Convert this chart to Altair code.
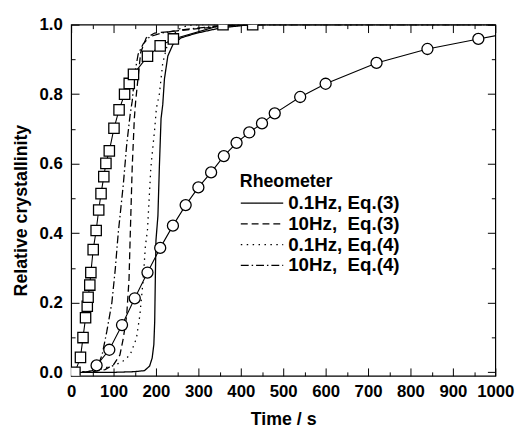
import altair as alt
import pandas as pd

# ---- data ----
# open squares (measured)
sq_t = [9, 22, 28, 34, 38, 40, 44, 46.5, 52, 59, 65, 70.5, 77, 82, 90, 101, 113, 126, 137, 147, 180, 210, 241, 358, 428]
sq_x = [0.0, 0.043, 0.10, 0.157, 0.19, 0.216, 0.251, 0.287, 0.353, 0.408, 0.467, 0.514, 0.563, 0.601, 0.637, 0.702, 0.755, 0.80, 0.831, 0.857, 0.909, 0.939, 0.959, 1.0, 1.0]

# open circles (measured); last point lies beyond the axis and is clipped
ci_t = [60, 90, 120, 150, 180, 210, 240, 270, 300, 330, 360, 390, 420, 450, 480, 540, 600, 720, 840, 960, 1080]
ci_x = [0.02, 0.065, 0.136, 0.213, 0.287, 0.358, 0.422, 0.481, 0.532, 0.575, 0.622, 0.66, 0.69, 0.716, 0.745, 0.792, 0.83, 0.89, 0.93, 0.959, 0.986]

# model curves (Rheometer)
s1_t = [0, 100, 150, 173, 185, 191, 195, 197, 198.5, 200, 204.6, 208, 212, 216, 220, 228, 240, 259, 294, 350, 420, 1000]
s1_x = [0.0, 0.0, 0.002, 0.005, 0.018, 0.041, 0.08, 0.145, 0.27, 0.38, 0.45, 0.59, 0.73, 0.77, 0.844, 0.91, 0.943, 0.962, 0.975, 0.99, 1.0, 1.0]

s2_t = [0, 50, 80, 100, 115, 123, 131, 136.5, 139, 144, 149, 152, 158, 164, 177, 197, 250, 350, 450, 1000]
s2_x = [0.0, 0.002, 0.008, 0.022, 0.05, 0.098, 0.164, 0.268, 0.38, 0.59, 0.73, 0.778, 0.85, 0.92, 0.962, 0.976, 0.982, 0.995, 1.0, 1.0]

s3_t = [0, 50, 96, 120, 139, 154, 162, 170, 175, 180, 188, 197, 201, 208, 216, 228, 250, 275, 300, 1000]
s3_x = [0.0, 0.003, 0.018, 0.03, 0.05, 0.098, 0.164, 0.268, 0.362, 0.41, 0.59, 0.70, 0.76, 0.80, 0.89, 0.948, 0.985, 0.998, 1.0, 1.0]

s4_t = [0, 30, 50, 65, 73, 84, 96, 104, 111, 123, 131, 139, 144, 150, 158, 170, 185, 210, 260, 350, 450, 1000]
s4_x = [0.0, 0.0, 0.005, 0.025, 0.05, 0.117, 0.2, 0.296, 0.4, 0.54, 0.655, 0.74, 0.78, 0.86, 0.915, 0.945, 0.965, 0.975, 0.985, 0.997, 1.0, 1.0]

series_labels = ["0.1Hz, Eq.(3)", "10Hz,\u00a0 Eq.(3)", "0.1Hz, Eq.(4)", "10Hz,\u00a0 Eq.(4)"]
series_dash = [[1, 0], [7, 4], [1.5, 4.5], [8, 3, 1.5, 3]]

x_major = list(range(0, 1001, 100))
x_minor = list(range(50, 1000, 100))
y_major = [0.0, 0.2, 0.4, 0.6, 0.8, 1.0]
y_minor = [0.1, 0.3, 0.5, 0.7, 0.9]

# ---- tables ----
curves = pd.concat([
    pd.DataFrame({"t": t, "x": x, "series": lab})
    for t, x, lab in zip([s1_t, s2_t, s3_t, s4_t], [s1_x, s2_x, s3_x, s4_x], series_labels)
])
squares = pd.DataFrame({"t": sq_t, "x": sq_x})
circles = pd.DataFrame({"t": ci_t, "x": ci_x})

W, H = 430, 356
FONT = "Liberation Sans"
xs = alt.Scale(domain=[0, 1000], nice=False, zero=False)
ys = alt.Scale(domain=[-0.01, 1.0], nice=False, zero=False)

text_style = dict(labelFont=FONT, labelFontWeight="bold", labelFontSize=17, labelColor="black",
                  titleFont=FONT, titleFontWeight="bold", titleFontSize=18, titleColor="black")


def tick_axis(orient, offset, vals, size):
    """Tick-only axis drawn on the opposite edge so that its ticks point inward."""
    return alt.Axis(orient=orient, offset=offset, values=vals, tickSize=size, tickColor="black",
                    labels=False, domain=False, grid=False, title=None)


x_main = alt.Axis(orient="bottom", values=x_major, format="d", ticks=False, domain=False, grid=False,
                  labelPadding=8, title="Time / s", titleX=W / 2, titleY=49,
                  titleBaseline="alphabetic", titleAlign="center", labelFlush=False,
                  labelOverlap=False, **text_style)
y_main = alt.Axis(orient="left", values=y_major, format=".1f", ticks=False, domain=False, grid=False,
                  labelPadding=9, title="Relative crystallinity", titleX=-45, titleY=188,
                  titleAngle=-90, titleBaseline="alphabetic", titleAlign="center",
                  labelFlush=False, labelOverlap=False, **text_style)

lines = alt.Chart(curves).mark_line(color="black", strokeWidth=1.3, clip=True).encode(
    x=alt.X("t:Q", scale=xs, axis=x_main),
    y=alt.Y("x:Q", scale=ys, axis=y_main),
    strokeDash=alt.StrokeDash(
        "series:N", sort=series_labels,
        scale=alt.Scale(domain=series_labels, range=series_dash),
        legend=alt.Legend(
            orient="none", legendX=171, legendY=151, title="Rheometer",
            titleFont=FONT, titleFontWeight="bold", titleFontSize=18, titleColor="black",
            titlePadding=3, labelFont=FONT, labelFontWeight="bold", labelFontSize=19,
            labelColor="black", labelLimit=0, labelOffset=4, symbolType="stroke",
            symbolSize=1849, symbolStrokeWidth=1.3, symbolStrokeColor="black",
            clipHeight=18, rowPadding=2, padding=0,
        ),
    ),
)

# bottom / left edges: axes of the opposite orientation, shifted across the plot
sq_line = alt.Chart(squares).mark_line(color="black", strokeWidth=1.1, clip=True).encode(
    x=alt.X("t:Q", scale=xs, axis=tick_axis("top", -H, x_major, 8)),
    y=alt.Y("x:Q", scale=ys, axis=tick_axis("right", -W, y_major, 8)),
)
ci_line = alt.Chart(circles).mark_line(color="black", strokeWidth=1.1, clip=True).encode(
    x=alt.X("t:Q", scale=xs, axis=tick_axis("top", -H, x_minor, 4)),
    y=alt.Y("x:Q", scale=ys, axis=tick_axis("right", -W, y_minor, 4)),
)
# top / right edges
sq_pts = alt.Chart(squares).mark_point(shape="square", filled=True, fill="white", stroke="black",
                                       strokeWidth=1.3, size=110, opacity=1, clip=True).encode(
    x=alt.X("t:Q", scale=xs, axis=tick_axis("bottom", -H, x_major, 8)),
    y=alt.Y("x:Q", scale=ys, axis=tick_axis("left", -W, y_major, 8)),
)
ci_pts = alt.Chart(circles).mark_point(shape="circle", filled=True, fill="white", stroke="black",
                                       strokeWidth=1.3, size=125, opacity=1, clip=True).encode(
    x=alt.X("t:Q", scale=xs, axis=tick_axis("bottom", -H, x_minor, 4)),
    y=alt.Y("x:Q", scale=ys, axis=tick_axis("left", -W, y_minor, 4)),
)

chart = alt.layer(lines, sq_line, ci_line, sq_pts, ci_pts).resolve_axis(
    x="independent", y="independent"
).properties(
    width=W, height=H,
    autosize=alt.AutoSizeParams(type="none"),
    padding={"left": 64, "top": 14, "right": 22, "bottom": 50},
).configure_view(stroke="black", strokeWidth=1.2)

chart.save("out.html", embed_options={"renderer": "svg", "actions": False})
